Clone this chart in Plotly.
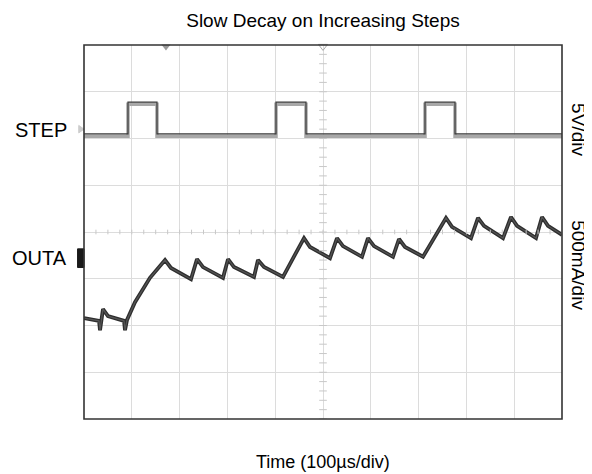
import plotly.graph_objects as go

# ---- data (time in µs, amplitude in screen divisions, 0 = screen centre) ----
step_t = [0, 92, 152.7, 401.7, 464.4, 713.4, 776.2, 1000]
step_v = [2.10, 2.78, 2.10, 2.78, 2.10, 2.78, 2.10, 2.10]

outa_t = [0, 31.4, 33.5, 39.7, 50.2, 83.7, 85.8, 90, 106.7, 138, 169.5, 182, 223.8,
          236.4, 249, 290.8, 301.3, 313.8, 355.6, 364, 376.6, 416.3, 431, 460.3,
          472.8, 514.6, 529.3, 541.8, 581.6, 594.1, 606.7, 646.4, 659, 671.5, 709.2,
          725.9, 757.3, 769.9, 809.6, 824.3, 836.8, 876.6, 893.3, 905.9, 945.6,
          958.2, 970.7, 1000]
outa_v = [-1.84, -1.90, -2.10, -1.65, -1.80, -1.90, -2.10, -1.88, -1.50, -0.98, -0.60,
          -0.77, -1.01, -0.58, -0.75, -0.98, -0.58, -0.75, -0.96, -0.60, -0.75, -0.96,
          -0.68, -0.13, -0.32, -0.56, -0.13, -0.30, -0.53, -0.13, -0.30, -0.53, -0.15,
          -0.32, -0.53, -0.24, 0.30, 0.11, -0.13, 0.30, 0.13, -0.13, 0.32, 0.13, -0.13,
          0.32, 0.13, -0.06]

title = "Slow Decay on Increasing Steps"
x_title = "Time (100µs/div)"
ch_labels = ["STEP", "OUTA"]
scale_labels = ["5V/div", "500mA/div"]

FONT = "Liberation Sans, Arial, sans-serif"

fig = go.Figure()

# STEP trace: light band with a dark line on top
fig.add_trace(go.Scatter(x=step_t, y=[v - 0.05 for v in step_v], mode="lines",
                         line=dict(color="#a8a8a8", width=3.5, shape="hv"),
                         hoverinfo="skip", showlegend=False))
fig.add_trace(go.Scatter(x=step_t, y=step_v, mode="lines",
                         line=dict(color="#3a3a3a", width=1.2, shape="hv"),
                         hoverinfo="skip", showlegend=False))
# OUTA trace
fig.add_trace(go.Scatter(x=outa_t, y=outa_v, mode="lines",
                         line=dict(color="#2e2e2e", width=3.8),
                         hoverinfo="skip", showlegend=False))
fig.add_trace(go.Scatter(x=outa_t, y=outa_v, mode="lines",
                         line=dict(color="#555555", width=1.2),
                         hoverinfo="skip", showlegend=False))

# trigger markers on top edge
fig.add_trace(go.Scatter(x=[171.5], y=[3.97], mode="markers",
                         marker=dict(symbol="triangle-down", size=8, color="#9a9a9a"),
                         cliponaxis=False, hoverinfo="skip", showlegend=False))
fig.add_trace(go.Scatter(x=[500], y=[3.97], mode="markers",
                         marker=dict(symbol="triangle-down-open", size=8, color="#aaaaaa"),
                         cliponaxis=False, hoverinfo="skip", showlegend=False))

shapes = []
# centre-line minor ticks
for k in range(41):
    t = k * 25
    shapes.append(dict(type="line", xref="x", yref="y", x0=t, x1=t, y0=-0.05, y1=0.05,
                       line=dict(color="#c8c8c8", width=1)))
for k in range(41):
    v = -4 + k * 0.2
    shapes.append(dict(type="line", xref="x", yref="y", x0=492, x1=508, y0=v, y1=v,
                       line=dict(color="#c8c8c8", width=1)))
# OUTA channel badge
shapes.append(dict(type="rect", xref="paper", yref="paper", x0=-0.0135, x1=0,
                   y0=0.405, y1=0.455, fillcolor="#1a1a1a",
                   line=dict(color="#1a1a1a", width=1)))
# STEP channel marker
shapes.append(dict(type="path", xref="paper", yref="paper",
                   path="M -0.011 0.785 L 0 0.775 L -0.011 0.765 Z",
                   fillcolor="#cccccc", line=dict(color="#cccccc", width=1)))
# border
shapes.append(dict(type="rect", xref="paper", yref="paper", x0=0, x1=1, y0=0, y1=1,
                   line=dict(color="#333333", width=1.6)))

LBL = 20
SCL = 19
annotations = [
    dict(x=-0.031, y=0.773, xref="paper", yref="paper", text=ch_labels[0], showarrow=False,
         xanchor="right", yanchor="middle", font=dict(size=LBL, color="black", family=FONT)),
    dict(x=-0.031, y=0.430, xref="paper", yref="paper", text=ch_labels[1], showarrow=False,
         xanchor="right", yanchor="middle", font=dict(size=LBL, color="black", family=FONT)),
    dict(x=1.033, y=0.773, xref="paper", yref="paper", text=scale_labels[0], showarrow=False,
         textangle=90, xanchor="center", yanchor="middle",
         font=dict(size=SCL, color="black", family=FONT)),
    dict(x=1.033, y=0.412, xref="paper", yref="paper", text=scale_labels[1], showarrow=False,
         textangle=90, xanchor="center", yanchor="middle",
         font=dict(size=SCL, color="black", family=FONT)),
    dict(x=0.5, y=-0.115, xref="paper", yref="paper", text=x_title, showarrow=False,
         xanchor="center", yanchor="middle", font=dict(size=18, color="black", family=FONT)),
]

# page body has an 8px margin, so the figure is sized/placed to compensate
fig.update_layout(
    width=584, height=466,
    margin=dict(l=76, r=30, t=37, b=55),
    paper_bgcolor="white", plot_bgcolor="white",
    title=dict(text=title, x=0.5, xref="paper", y=1 - 12 / 466, yanchor="middle",
               font=dict(size=19, color="black", family=FONT)),
    shapes=shapes, annotations=annotations,
    xaxis=dict(range=[0, 1000], dtick=100, showticklabels=False, ticks="",
               showgrid=True, gridcolor="#dcdcdc", gridwidth=1, zeroline=False,
               showline=False, fixedrange=True),
    yaxis=dict(range=[-4, 4], dtick=1, showticklabels=False, ticks="",
               showgrid=True, gridcolor="#dcdcdc", gridwidth=1, zeroline=False,
               showline=False, fixedrange=True),
)

fig.write_html("out.html")
